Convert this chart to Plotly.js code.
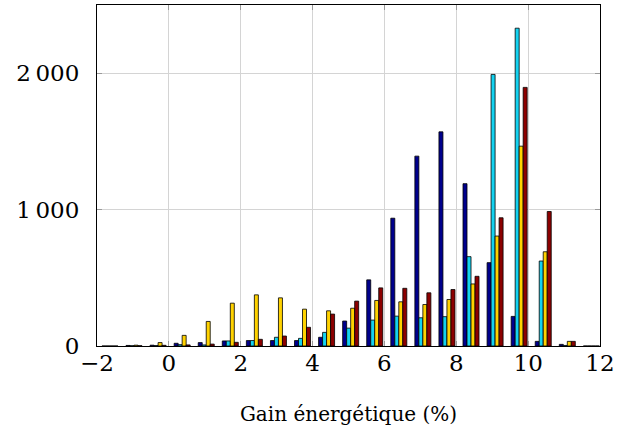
<!DOCTYPE html>
<html>
<head>
<meta charset="utf-8">
<script src="https://cdn.plot.ly/plotly-3.0.1.min.js"></script>
<style>html,body{margin:0;padding:0;background:#fff;}#chart{width:630px;height:436px;}</style>
</head>
<body>
<div id="chart"></div>
<script>
// Bin centres (Gain énergétique, %)
const binCenters = [-1.64, -0.97, -0.30, 0.37, 1.04, 1.71, 2.38, 3.05, 3.72, 4.39, 5.06, 5.73, 6.40, 7.07, 7.74, 8.41, 9.08, 9.75, 10.42, 11.09, 11.76];
// Counts per series
const seriesNavy = [0, 4, 6, 20, 25, 37, 40, 40, 40, 64, 183, 485, 937, 1392, 1570, 1190, 611, 217, 34, 12, 0];
const seriesCyan = [0, 2, 3, 10, 8, 37, 40, 64, 56, 100, 131, 190, 219, 207, 215, 655, 1991, 2330, 623, 4, 0];
const seriesGold = [0, 6, 25, 78, 180, 314, 375, 353, 270, 258, 277, 334, 324, 304, 341, 455, 806, 1465, 691, 34, 0];
const seriesRed  = [0, 2, 5, 8, 14, 27, 49, 73, 137, 234, 329, 426, 423, 390, 414, 511, 940, 1896, 986, 34, 0];
// Tick labels
const xTickVals = [-2, 0, 2, 4, 6, 8, 10, 12];
const xTickText = ['\u22122', '0', '2', '4', '6', '8', '10', '12'];
const yTickVals = [0, 1000, 2000];
const yTickText = ['0', '1\u2009000', '2\u2009000'];
const xTitle = 'Gain énergétique (%)';

const colors = ['#00008c', '#14d2f0', '#ffd200', '#8c0000'];
const allSeries = [seriesNavy, seriesCyan, seriesGold, seriesRed];

const traces = allSeries.map((ys, i) => ({
  type: 'bar',
  x: binCenters,
  y: ys,
  marker: {color: colors[i], line: {color: '#000', width: 0.8}},
  showlegend: false,
  hoverinfo: 'x+y'
}));

const FAM = 'DejaVu Serif';

const layout = {
  width: 630, height: 436,
  margin: {l: 97, r: 30, t: 5, b: 90},
  paper_bgcolor: '#fff', plot_bgcolor: '#fff',
  barmode: 'group', bargap: 0.335, bargroupgap: 0,
  font: {family: FAM, size: 23, color: '#000'},
  xaxis: {
    range: [-2, 12],
    tickmode: 'array', tickvals: xTickVals, ticktext: xTickText,
    showgrid: true, gridcolor: '#d4d4d4', gridwidth: 1,
    zeroline: false,
    showline: true, linecolor: '#000', linewidth: 1, mirror: 'ticks',
    ticks: 'inside', ticklen: 5, tickcolor: '#9a9a9a', tickwidth: 1,
    tickfont: {family: FAM, size: 23, color: '#000'},
    ticklabelstandoff: -4,
    title: {text: xTitle, font: {family: FAM, size: 20, color: '#000'}, standoff: 32}
  },
  yaxis: {
    range: [0, 2500],
    tickmode: 'array', tickvals: yTickVals, ticktext: yTickText,
    showgrid: true, gridcolor: '#d4d4d4', gridwidth: 1,
    zeroline: false,
    showline: true, linecolor: '#000', linewidth: 1, mirror: 'ticks',
    ticks: 'inside', ticklen: 5, tickcolor: '#9a9a9a', tickwidth: 1,
    tickfont: {family: FAM, size: 23, color: '#000'},
    ticklabelstandoff: 12
  }
};

Plotly.newPlot('chart', traces, layout, {staticPlot: true, displayModeBar: false});
</script>
</body>
</html>
